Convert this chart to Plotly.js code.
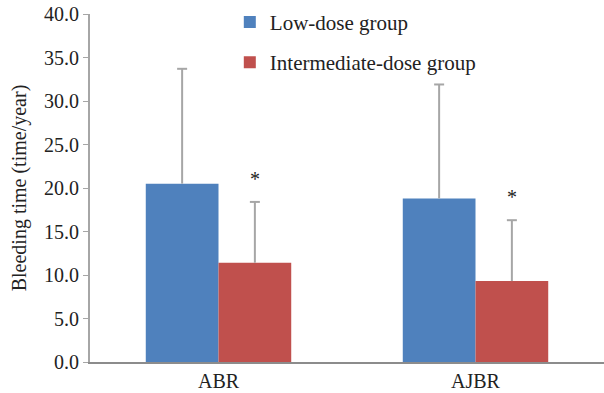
<!DOCTYPE html>
<html>
<head>
<meta charset="utf-8">
<script src="https://cdn.plot.ly/plotly-3.0.1.min.js"></script>
<style>html,body{margin:0;padding:0;background:#fff;}</style>
</head>
<body>
<div id="chart"></div>
<script>
const categories = ['ABR', 'AJBR'];
const lowDose = [20.5, 18.8];
const lowDoseSD = [13.2, 13.1];
const midDose = [11.4, 9.3];
const midDoseSD = [7.0, 7.0];
const seriesNames = ['Low-dose group', 'Intermediate-dose group'];
const markers = ['*', '*'];

const FAM = 'Liberation Serif';
const errColor = '#a6a6a6';
const bargap = 0.434;
const halfW = (1 - bargap) / 4;

function errBar(sd) {
  return {type: 'data', symmetric: false, array: sd, arrayminus: sd.map(() => 0),
    color: errColor, thickness: 2, width: 0};
}

const traces = [
  {type: 'bar', name: seriesNames[0], x: categories, y: lowDose, marker: {color: '#4F81BD'},
   error_y: errBar(lowDoseSD), legendgroup: 'a'},
  {type: 'bar', name: seriesNames[1], x: categories, y: midDose, marker: {color: '#C0504D'},
   error_y: errBar(midDoseSD), legendgroup: 'b'}
];

const shapes = [];
categories.forEach((c, i) => {
  [[lowDose, lowDoseSD, -halfW], [midDose, midDoseSD, halfW]].forEach(([v, sd, off]) => {
    shapes.push({type: 'line', xref: 'x', yref: 'y', xsizemode: 'pixel', xanchor: i + off,
      x0: -5, x1: 5, y0: v[i] + sd[i], y1: v[i] + sd[i], line: {color: errColor, width: 2}});
  });
});

const annotations = categories.map((c, i) => ({
  x: i + halfW, y: midDose[i] + midDoseSD[i], xref: 'x', yref: 'y', text: markers[i],
  showarrow: false, yshift: 23, font: {family: FAM, size: 20, color: '#222'}
}));

const layout = {
  width: 604, height: 393,
  margin: {l: 90, r: 0, t: 14, b: 31},
  paper_bgcolor: '#fff', plot_bgcolor: '#fff',
  barmode: 'group', bargap: bargap, bargroupgap: 0,
  font: {family: FAM, size: 20, color: '#222'},
  showlegend: true,
  legend: {x: 0.272, y: 1.035, xanchor: 'left', yanchor: 'top', bgcolor: 'rgba(0,0,0,0)',
    font: {family: FAM, size: 21, color: '#222'}, traceorder: 'grouped', tracegroupgap: 10},
  xaxis: {type: 'category', range: [-0.5, 1.5], showline: true, linecolor: '#8c8c8c', linewidth: 2,
    ticks: '', showgrid: false, automargin: false, tickfont: {family: FAM, size: 20, color: '#222'}},
  yaxis: {range: [0, 40], dtick: 5, tickformat: '.1f', showline: true, linecolor: '#a6a6a6', linewidth: 2,
    ticks: 'outside', ticklen: 5, tickcolor: '#a6a6a6', showgrid: false, zeroline: false, automargin: false,
    tickfont: {family: FAM, size: 20, color: '#222'},
    title: {text: 'Bleeding time (time/year)', font: {family: FAM, size: 20, color: '#222'}, standoff: 12}},
  shapes: shapes,
  annotations: annotations
};

Plotly.newPlot('chart', traces, layout, {displayModeBar: false});
</script>
</body>
</html>
